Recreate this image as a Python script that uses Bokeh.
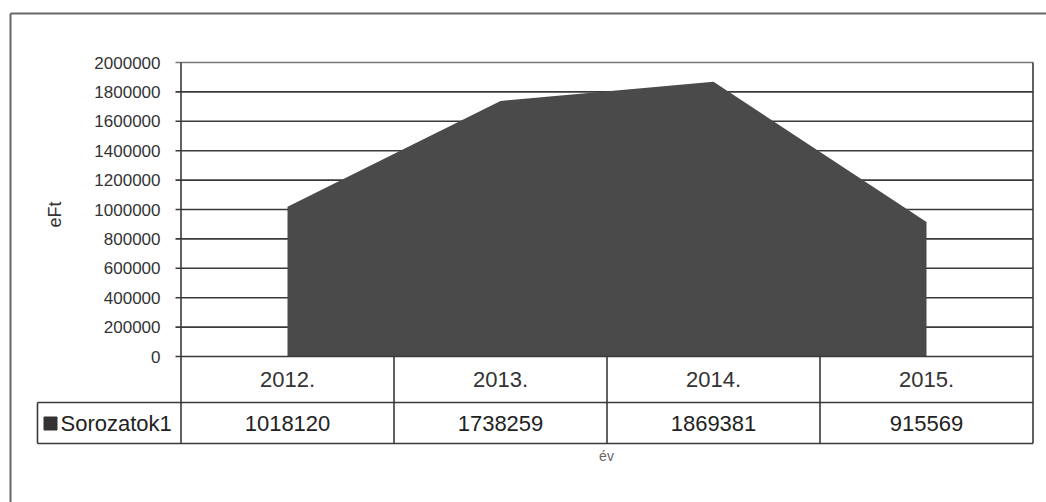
import math
from bokeh.plotting import figure
from bokeh.models import Range1d
from bokeh.core.properties import value
from bokeh.embed import file_html
from bokeh.resources import INLINE

# ---- data ----
years = ["2012.", "2013.", "2014.", "2015."]
values = [1018120, 1738259, 1869381, 915569]
series_name = "Sorozatok1"
y_ticks = [0, 200000, 400000, 600000, 800000, 1000000, 1200000, 1400000, 1600000, 1800000, 2000000]
y_label = "eFt"
x_label = "év"

# ---- layout helpers (picture pixels -> data coordinates) ----
W, H = 1046, 502
X_OFF, Y_OFF = 0, 0                # picture position of the canvas
XC0, XSTEP = 287.0, 213.0          # x of first category centre, px per category
Y0PX, YTOPPX = 356.0, 62.0         # y of value 0 and of the top tick
YMAX = y_ticks[-1]


def xd(px):
    return (px - XC0) / XSTEP


def yd(py):
    return (Y0PX - py) * YMAX / (Y0PX - YTOPPX)


FONT = value("Liberation Sans")
TXT = "#333333"
LINE = "#3a3a3a"

p = figure(width=W, height=H, output_backend="svg", toolbar_location=None,
           x_axis_type=None, y_axis_type=None,
           x_range=Range1d(xd(X_OFF), xd(X_OFF + W)), y_range=Range1d(yd(Y_OFF + H), yd(Y_OFF)),
           min_border=0, min_border_left=0, min_border_right=0,
           min_border_top=0, min_border_bottom=0)
p.outline_line_color = None
p.background_fill_color = "white"
p.border_fill_color = "white"
p.grid.visible = False

n = len(years)
xs = list(range(n))
left, right = -0.5, n - 0.5
row1_bottom = yd(402)
row2_bottom = yd(443)
legend_left = xd(37)

# gridlines (behind area); top one lighter
grid_vals = y_ticks[1:-1]
p.segment(x0=[xd(175)] * len(grid_vals), y0=grid_vals, x1=[right] * len(grid_vals), y1=grid_vals,
          line_color=LINE, line_width=1.6)
p.segment(x0=[xd(175)], y0=[y_ticks[-1]], x1=[right], y1=[y_ticks[-1]],
          line_color="#777777", line_width=1.4)

# area
p.varea(x=xs, y1=[0] * n, y2=values, fill_color="#4a4a4a")

# zero line / table top and tick at 0
p.segment(x0=[xd(175)], y0=[0], x1=[right], y1=[0], line_color=LINE, line_width=1.6)

# axis and table vertical lines
p.segment(x0=[left, right], y0=[row2_bottom, row2_bottom], x1=[left, right], y1=[YMAX, YMAX],
          line_color=LINE, line_width=1.6)
div_x = [i + 0.5 for i in range(n - 1)]
p.segment(x0=div_x, y0=[row2_bottom] * len(div_x), x1=div_x, y1=[0] * len(div_x),
          line_color=LINE, line_width=1.6)
# table horizontal lines
p.segment(x0=[legend_left, legend_left], y0=[row1_bottom, row2_bottom], x1=[right, right],
          y1=[row1_bottom, row2_bottom], line_color=LINE, line_width=1.6)
p.segment(x0=[legend_left], y0=[row2_bottom], x1=[legend_left], y1=[row1_bottom],
          line_color=LINE, line_width=1.6)

# y tick labels
p.text(x=[xd(160)] * len(y_ticks), y=y_ticks, text=[str(t) for t in y_ticks],
       text_align="right", text_baseline="middle", text_font=FONT,
       text_font_size="17px", text_color=TXT)

# y axis label
p.text(x=[xd(54)], y=[yd(214)], text=[y_label], angle=math.pi / 2,
       text_align="center", text_baseline="middle", text_font=FONT,
       text_font_size="18px", text_color=TXT)

# table: category row
row1_mid = yd(379)
row2_mid = yd(423)
p.text(x=xs, y=[row1_mid] * n, text=years, text_align="center", text_baseline="middle",
       text_font=FONT, text_font_size="22px", text_color=TXT)
# table: values row
p.text(x=xs, y=[row2_mid] * n, text=[str(v) for v in values], text_align="center",
       text_baseline="middle", text_font=FONT, text_font_size="22px", text_color="#222222")
# legend key + series name
p.scatter(x=[xd(50)], y=[row2_mid], marker="square", size=13, fill_color="#333333",
          line_color="#333333")
p.text(x=[xd(60)], y=[row2_mid], text=[series_name], text_align="left", text_baseline="middle",
       text_font=FONT, text_font_size="22px", text_color="#222222")

# x axis label
p.text(x=[xd(606)], y=[yd(455)], text=[x_label], text_align="center", text_baseline="middle",
       text_font=FONT, text_font_size="14px", text_color="#666666")

# outer chart border (left and top)
p.segment(x0=[xd(10), xd(10)], y0=[yd(13), yd(13)], x1=[xd(10), xd(1046)], y1=[yd(502), yd(13)],
          line_color="#666666", line_width=2)

open("out.html", "w").write(file_html(p, INLINE))
